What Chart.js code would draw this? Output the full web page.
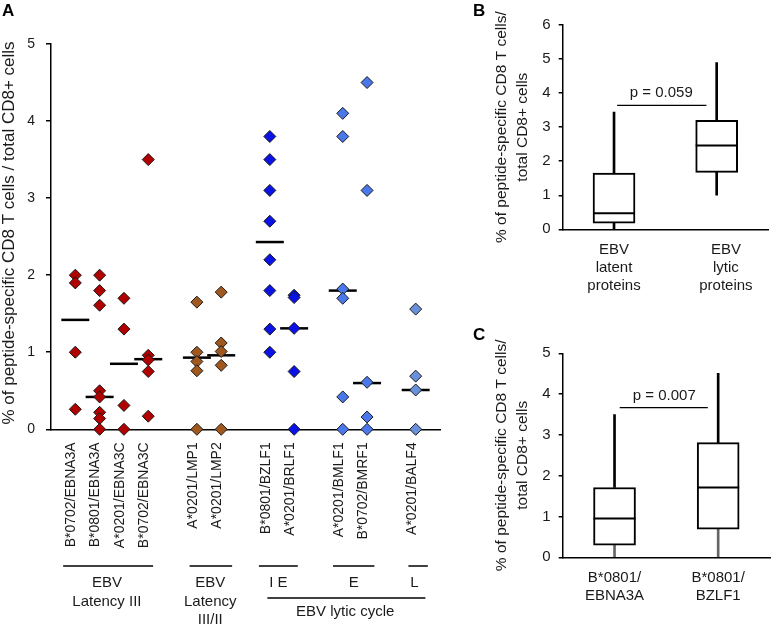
<!DOCTYPE html>
<html>
<head>
<meta charset="utf-8">
<script src="https://cdn.jsdelivr.net/npm/chart.js@4.4.1/dist/chart.umd.min.js"></script>
<style>
  body { margin: 0; background: #fff; }
  #wrap { position: relative; width: 771px; height: 625px; }
  canvas { position: absolute; }
  #chartA { left: 0; top: 0; }
  #chartB { left: 460px; top: 0; }
  #chartC { left: 460px; top: 320px; }
</style>
</head>
<body>
<div id="wrap">
  <canvas id="chartA" width="455" height="625"></canvas>
  <canvas id="chartB" width="311" height="318"></canvas>
  <canvas id="chartC" width="311" height="305"></canvas>
</div>
<script>
// Panel A: % peptide-specific CD8 T cells per epitope
const peptides = ['B*0702/EBNA3A', 'B*0801/EBNA3A', 'A*0201/EBNA3C', 'B*0702/EBNA3C',
                  'A*0201/LMP1', 'A*0201/LMP2', 'B*0801/BZLF1', 'A*0201/BRLF1',
                  'A*0201/BMLF1', 'B*0702/BMRF1', 'A*0201/BALF4'];
const slotPos = [1, 2, 3, 4, 6, 7, 9, 10, 12, 13, 15];

const b0702Ebna3a = [2.0, 1.9, 1.0, 0.26];
const b0801Ebna3a = [2.0, 1.8, 1.61, 0.5, 0.42, 0.22, 0.14, 0];
const a0201Ebna3c = [1.7, 1.3, 0.31, 0];
const b0702Ebna3c = [3.5, 0.96, 0.9, 0.75, 0.17];
const a0201Lmp1 = [1.65, 1.0, 0.88, 0.76, 0];
const a0201Lmp2 = [1.78, 1.12, 1.01, 0.83, 0];
const b0801Bzlf1 = [3.8, 3.5, 3.1, 2.7, 2.2, 1.8, 1.3, 1.0];
const a0201Brlf1 = [1.74, 1.71, 1.31, 0.75, 0];
const a0201Bmlf1 = [4.1, 3.8, 1.82, 1.7, 0.42, 0];
const b0702Bmrf1 = [4.5, 3.1, 0.61, 0.16, 0];
const a0201Balf4 = [1.56, 0.69, 0.51, 0];
const medianValues = [1.42, 0.42, 0.85, 0.91, 0.93, 0.96, 2.43, 1.31, 1.8, 0.6, 0.51];

const peptideValues = [b0702Ebna3a, b0801Ebna3a, a0201Ebna3c, b0702Ebna3c, a0201Lmp1, a0201Lmp2,
                       b0801Bzlf1, a0201Brlf1, a0201Bmlf1, b0702Bmrf1, a0201Balf4];

const red = '#B00000', brown = '#A0581F', blue = '#0A12E6', lightBlue = '#4A78EA', paleBlue = '#6990DA';
const peptideColors = [red, red, red, red, brown, brown, blue, blue, lightBlue, lightBlue, paleBlue];

// Panel B: latent vs lytic
const bGroups = [['EBV', 'latent', 'proteins'], ['EBV', 'lytic', 'proteins']];
const bMin = [0, 1.0];
const bQ1 = [0.18, 1.67];
const bMed = [0.47, 2.46];
const bQ3 = [1.65, 3.2];
const bMax = [3.44, 4.9];
const bPvalue = 'p = 0.059';

// Panel C: EBNA3A vs BZLF1
const cGroups = [['B*0801/', 'EBNA3A'], ['B*0801/', 'BZLF1']];
const cMin = [0, 0];
const cQ1 = [0.3, 0.69];
const cMed = [0.95, 1.71];
const cQ3 = [1.71, 2.81];
const cMax = [3.5, 4.51];
const cPvalue = 'p = 0.007';

Chart.defaults.font.family = '"Liberation Sans", Arial, sans-serif';
Chart.defaults.color = '#1a1a1a';
Chart.defaults.animation = false;
Chart.defaults.events = [];
Chart.defaults.plugins.legend.display = false;
Chart.defaults.plugins.tooltip.enabled = false;

function drawRotated(ctx, lines, x0, yc, gap, font) {
    ctx.save();
    ctx.font = font;
    ctx.fillStyle = '#1a1a1a';
    ctx.textAlign = 'center';
    ctx.textBaseline = 'middle';
    lines.forEach((t, i) => {
        ctx.save();
        ctx.translate(x0 + i * gap, yc);
        ctx.rotate(-Math.PI / 2);
        ctx.fillText(t, 0, 0);
        ctx.restore();
    });
    ctx.restore();
}

function panelLetter(ctx, letter, x, y) {
    ctx.save();
    ctx.font = 'bold 17px "Liberation Sans", Arial, sans-serif';
    ctx.fillStyle = '#000';
    ctx.textAlign = 'left';
    ctx.textBaseline = 'top';
    ctx.fillText(letter, x, y);
    ctx.restore();
}

// ---------- Panel A ----------
const dotSets = peptides.map((name, i) => ({
    type: 'scatter',
    label: name,
    data: peptideValues[i].map(v => ({ x: slotPos[i], y: v })),
    pointStyle: 'rectRot',
    pointRadius: 6,
    pointBackgroundColor: peptideColors[i],
    pointBorderColor: '#1a1a1a',
    pointBorderWidth: 1,
    clip: false,
    order: 0
}));

const medianSet = {
    type: 'scatter',
    label: 'median',
    data: medianValues.map((v, i) => ({ x: slotPos[i], y: v })),
    pointStyle: 'line',
    pointRadius: 14,
    pointBorderColor: '#000',
    pointBorderWidth: 2.5,
    clip: false,
    order: 1
};

const groupsA = {
    id: 'groupsA',
    afterDraw(chart) {
        const ctx = chart.ctx;
        const xs = chart.scales.x;
        const px = v => xs.getPixelForValue(v);
        ctx.save();
        ctx.strokeStyle = '#000';
        ctx.lineWidth = 1.5;
        [[0.5, 4.2], [5.7, 7.45], [8.55, 10.15], [11.6, 13.3], [14.7, 15.5]].forEach(([a, b]) => {
            ctx.beginPath(); ctx.moveTo(px(a), 566); ctx.lineTo(px(b), 566); ctx.stroke();
        });
        ctx.beginPath(); ctx.moveTo(px(8.9), 598); ctx.lineTo(px(15.4), 598); ctx.stroke();
        ctx.font = '15px "Liberation Sans", Arial, sans-serif';
        ctx.fillStyle = '#1a1a1a';
        ctx.textAlign = 'center';
        ctx.textBaseline = 'middle';
        const labels = [
            [2.3, ['EBV', 'Latency III']],
            [6.55, ['EBV', 'Latency', 'III/II']],
            [9.35, ['I E']],
            [12.45, ['E']],
            [14.95, ['L']]
        ];
        labels.forEach(([v, lines]) => {
            lines.forEach((t, i) => ctx.fillText(t, px(v), 583 + i * 18.5));
        });
        ctx.fillText('EBV lytic cycle', px(12.1), 612);
        ctx.restore();
        drawRotated(ctx, ['% of peptide-specific CD8 T cells / total CD8+ cells'], 9, 233, 0,
                    '17px "Liberation Sans", Arial, sans-serif');
        panelLetter(ctx, 'A', 2, 3);
    }
};

new Chart(document.getElementById('chartA'), {
    type: 'scatter',
    data: { datasets: [...dotSets, medianSet] },
    options: {
        responsive: false,
        layout: { autoPadding: false, padding: { left: 0, top: 44, right: 15, bottom: 0 } },
        scales: {
            x: {
                type: 'linear', min: 0, max: 16,
                afterBuildTicks: s => { s.ticks = slotPos.map(v => ({ value: v })); },
                afterFit: s => { s.height = 195.7; s.paddingLeft = 0; s.paddingRight = 0; },
                grid: { display: false, drawTicks: false },
                border: { color: '#000', width: 1.5 },
                ticks: {
                    autoSkip: false, minRotation: 90, maxRotation: 90,
                    padding: 13, labelOffset: -4,
                    font: { size: 14 },
                    callback: v => peptides[slotPos.indexOf(v)] || ''
                }
            },
            y: {
                min: 0, max: 5,
                afterFit: s => { s.width = 51; },
                grid: { drawOnChartArea: false, tickLength: 5, color: '#000', lineWidth: 1.5 },
                border: { color: '#000', width: 1.5 },
                ticks: { stepSize: 1, padding: 11, font: { size: 14 } }
            }
        }
    },
    plugins: [groupsA]
});

// ---------- Panels B and C (box plots) ----------
function boxDatasets(mins, q1s, meds, q3s, maxs, lowColor) {
    const idx = mins.map((_, i) => i);
    return [
        {
            type: 'scatter', label: 'median',
            data: idx.map(i => ({ x: i, y: meds[i] })),
            pointStyle: 'line', pointRadius: 21,
            pointBorderColor: '#000', pointBorderWidth: 2,
            clip: false, order: 0
        },
        {
            type: 'bar', label: 'box',
            data: idx.map(i => ({ x: i, y: [q1s[i], q3s[i]] })),
            backgroundColor: '#fff', borderColor: '#000', borderWidth: 2,
            borderSkipped: false, barThickness: 42, grouped: false, order: 1
        },
        {
            type: 'bar', label: 'upper whisker',
            data: idx.map(i => ({ x: i, y: [q3s[i], maxs[i]] })),
            backgroundColor: '#000', borderWidth: 0,
            barThickness: 2, grouped: false, order: 2
        },
        {
            type: 'bar', label: 'lower whisker',
            data: idx.map(i => ({ x: i, y: [mins[i], q1s[i]] })),
            backgroundColor: lowColor, borderWidth: 0,
            barThickness: 2, grouped: false, order: 2
        }
    ];
}

function pLine(x0, x1, y) {
    return {
        type: 'line', label: 'p',
        data: [{ x: x0, y: y }, { x: x1, y: y }],
        borderColor: '#000', borderWidth: 1.3, pointRadius: 0, order: 3
    };
}

function boxPlugin(id, letter, letterY, pText, pX, pY) {
    return {
        id: id,
        afterDraw(chart) {
            const ctx = chart.ctx;
            const ca = chart.chartArea;
            drawRotated(ctx, ['% of peptide-specific CD8 T cells/', 'total CD8+ cells'],
                        41.7, (ca.top + ca.bottom) / 2, 21.5, '15.5px "Liberation Sans", Arial, sans-serif');
            ctx.save();
            ctx.font = '15px "Liberation Sans", Arial, sans-serif';
            ctx.fillStyle = '#1a1a1a';
            ctx.textAlign = 'center';
            ctx.textBaseline = 'middle';
            ctx.fillText(pText, chart.scales.x.getPixelForValue(pX), chart.scales.y.getPixelForValue(pY) - 12);
            ctx.restore();
            panelLetter(ctx, letter, 13, letterY);
        }
    };
}

function boxOptions(yMax, padTop, padRight, xHeight, groups, tickVals) {
    return {
        responsive: false,
        layout: { autoPadding: false, padding: { left: 0, top: padTop, right: padRight, bottom: 0 } },
        scales: {
            x: {
                type: 'linear', min: -0.5, max: 1.5, offset: false,
                afterBuildTicks: s => { s.ticks = tickVals.map(v => ({ value: v })); },
                afterFit: s => { s.height = xHeight; s.paddingLeft = 0; s.paddingRight = 0; },
                grid: { display: false, drawTicks: false },
                border: { color: '#000', width: 1.5 },
                ticks: {
                    autoSkip: false, maxRotation: 0, padding: 12,
                    font: { size: 15, lineHeight: 1.2 },
                    callback: (v, i) => groups[i]
                }
            },
            y: {
                min: 0, max: yMax,
                afterFit: s => { s.width = 102.7; },
                grid: { drawOnChartArea: false, tickLength: 4, color: '#000', lineWidth: 1.5 },
                border: { color: '#000', width: 1.5 },
                ticks: { stepSize: 1, padding: 8, font: { size: 15 } }
            }
        }
    };
}

new Chart(document.getElementById('chartB'), {
    type: 'bar',
    data: { datasets: [...boxDatasets(bMin, bQ1, bMed, bQ3, bMax, '#000'), pLine(0.03, 0.9, 3.64)] },
    options: boxOptions(6, 25, 3, 88.7, bGroups, [0, 1.09]),
    plugins: [boxPlugin('boxB', 'B', 3, bPvalue, 0.46, 3.64)]
});

new Chart(document.getElementById('chartC'), {
    type: 'bar',
    data: { datasets: [...boxDatasets(cMin, cQ1, cMed, cQ3, cMax, '#666'), pLine(0.05, 0.9, 3.67)] },
    options: boxOptions(5, 33.3, 1, 67.7, cGroups, [0, 1]),
    plugins: [boxPlugin('boxC', 'C', 7, cPvalue, 0.48, 3.67)]
});
</script>
</body>
</html>
